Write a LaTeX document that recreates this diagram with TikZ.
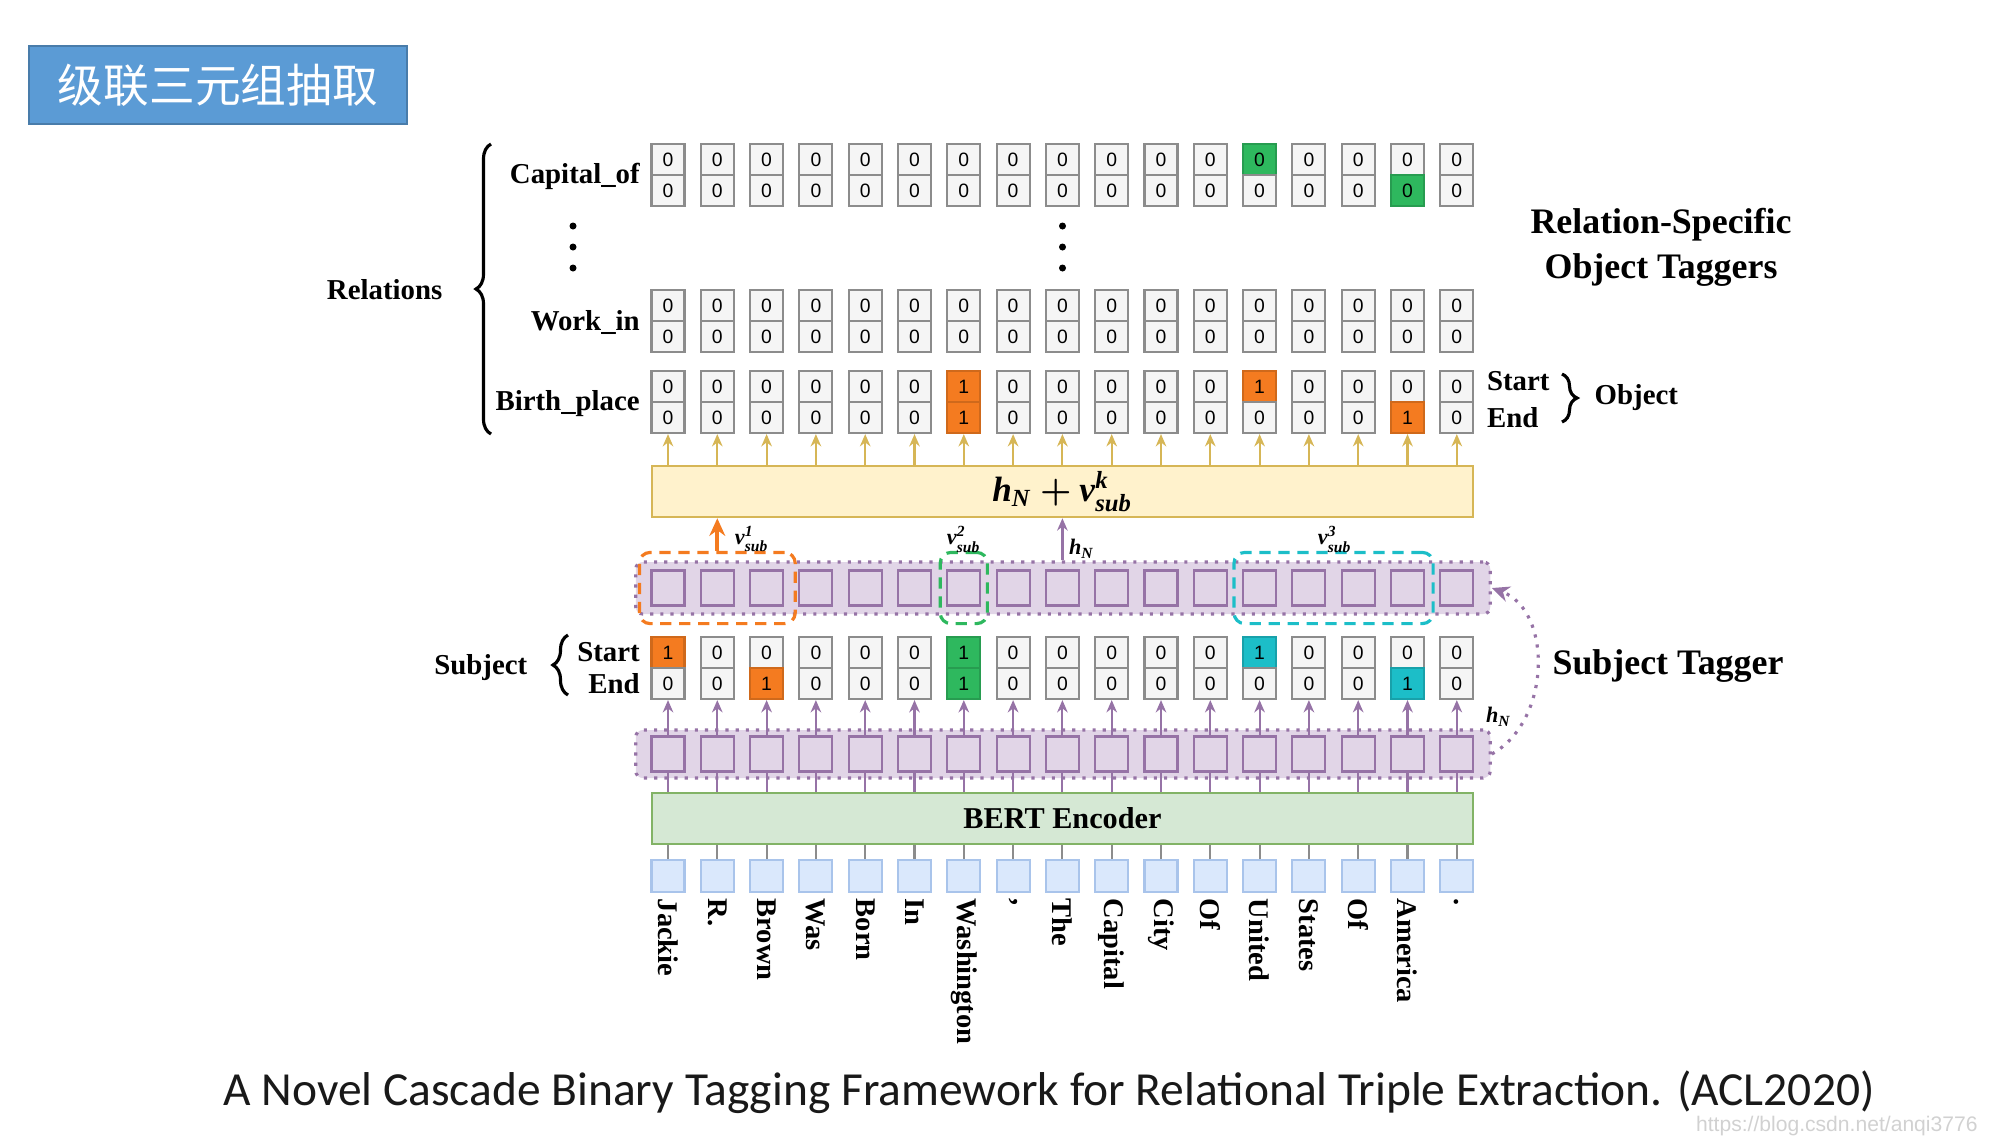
\documentclass[tikz,border=0pt]{standalone}
\usepackage{amsmath}
\usepackage{fontspec}
\setmainfont{Liberation Serif}
\setsansfont{Liberation Sans}
\newfontfamily\capfont{Carlito}
\newfontfamily\cjk{Noto Sans CJK SC}
\usetikzlibrary{positioning,fit,arrows.meta,decorations.pathreplacing}

\definecolor{titleblue}{HTML}{5B9BD5}
\definecolor{cellline}{HTML}{8C8C8C}
\definecolor{cellfill}{HTML}{F5F5F5}
\definecolor{tagorange}{HTML}{F47B20}
\definecolor{taggreen}{HTML}{2EB85E}
\definecolor{tagcyan}{HTML}{1CBEC8}
\definecolor{sumfill}{HTML}{FFF2CC}
\definecolor{sumline}{HTML}{D6B656}
\definecolor{hidfill}{HTML}{E1D5E7}
\definecolor{hidline}{HTML}{9673A6}
\definecolor{bertfill}{HTML}{D5E8D4}
\definecolor{bertline}{HTML}{82B366}
\definecolor{tokfill}{HTML}{DAE8FC}
\definecolor{tokline}{HTML}{A9C4EB}

\newcommand\bi[1]{\textbf{\textit{#1}}}

\tikzset{
  cell/.style={draw=cellline, fill=cellfill, line width=0.6pt, minimum width=0.33cm,
    minimum height=0.31cm, inner sep=0pt, font=\sffamily\fontsize{5.5}{6}\selectfont, node contents=0},
  org1/.style={fill=tagorange, draw=tagorange!85!black, node contents=1},
  grn1/.style={fill=taggreen, draw=taggreen!85!black, node contents=1},
  grn0/.style={fill=taggreen, draw=taggreen!85!black, node contents=0},
  cyn1/.style={fill=tagcyan, draw=tagcyan!85!black, node contents=1},
  % highlighted tags
  cap-13-s/.style={grn0}, cap-16-e/.style={grn0},
  birth-7-s/.style={org1}, birth-7-e/.style={org1},
  birth-13-s/.style={org1}, birth-16-e/.style={org1},
  subj-1-s/.style={org1}, subj-3-e/.style={org1},
  subj-7-s/.style={grn1}, subj-7-e/.style={grn1},
  subj-13-s/.style={cyn1}, subj-16-e/.style={cyn1},
  lab/.style={font=\bfseries\fontsize{8.2}{9}\selectfont, inner sep=0pt},
  biglab/.style={font=\bfseries\fontsize{10.2}{12.7}\selectfont, inner sep=0pt, align=center},
  hid/.style={draw=hidline, fill=hidfill, line width=0.6pt, minimum width=0.33cm,
    minimum height=0.35cm, inner sep=0pt},
  cont/.style={draw=hidline, fill=hidfill, dotted, line width=0.9pt, rounded corners=2pt,
    minimum width=8.54cm, inner sep=0pt},
  bar/.style={line width=0.7pt, minimum width=8.21cm, minimum height=0.51cm, inner sep=0pt},
  vbox/.style={dash pattern=on 3.2pt off 2.2pt, line width=0.9pt, rounded corners=3pt,
    inner ysep=0.17cm},
  tok/.style={draw=tokline, fill=tokfill, line width=0.6pt, minimum width=0.33cm,
    minimum height=0.32cm, inner sep=0pt},
  word/.style={font=\bfseries\fontsize{8.1}{9}\selectfont, rotate=-90, anchor=west, inner sep=0pt},
  vlab/.style={font=\fontsize{6.3}{7}\selectfont, inner sep=0pt},
  goldarr/.style={draw=sumline, line width=0.6pt, -{Stealth[length=3.5pt,width=3pt]}},
  purarr/.style={draw=hidline, line width=0.6pt, -{Stealth[length=3.5pt,width=3pt]}},
  orgarr/.style={draw=tagorange, line width=1.1pt, -{Stealth[length=5pt,width=4.5pt]}},
  brc/.style={decorate, decoration={brace, amplitude=0.15cm}, line width=0.9pt},
}

\begin{document}
\begin{tikzpicture}[x=0.01cm, y=-0.01cm]
\useasboundingbox (0,0) rectangle (2000,1144);

% 标题
\node[fill=titleblue, draw=titleblue!80!black, minimum width=3.78cm, minimum height=0.78cm,
  text=white, font=\cjk\fontsize{13}{14}\selectfont] (title) at (218,85) {级联三元组抽取};

% 标签格 (关系行 + 主体行)
\foreach \r/\y in {cap/175, work/321, birth/402, subj/668}{
  \foreach \i in {1,...,17}{
    \node (\r-s-\i) at ({668+49.3*(\i-1)}, \y-15.5) [cell, \r-\i-s/.try];
    \node (\r-e-\i) at ({668+49.3*(\i-1)}, \y+15.5) [cell, \r-\i-e/.try];
  }
}

% 省略号
\foreach \y in {226,247,268}{
  \fill (573,\y) circle (0.035cm);
  \fill (1062.5,\y) circle (0.035cm);
}

% 左侧标签
\node[lab, anchor=east] (lcap) at ([xshift=-0.1cm]cap-s-1.south west) {Capital\_of};
\node[lab, anchor=east] (lwork) at ([xshift=-0.1cm]work-s-1.south west) {Work\_in};
\node[lab, anchor=east] (lbirth) at ([xshift=-0.1cm]birth-s-1.south west) {Birth\_place};
\draw[brc] (491,434) -- (491,144);
\node[lab, anchor=east] (lrel) at (443,290) {Relations};

% 右侧 Object
\node[lab, anchor=west] (lostart) at ([xshift=0.12cm, yshift=0.05cm]birth-s-17.east) {Start};
\node[lab, anchor=west] (loend) at ([xshift=0.12cm]birth-e-17.east) {End};
\draw[brc] (1562,374) -- (1562,422);
\node[lab, anchor=west] (lobj) at (1594,398) {Object};
\node[biglab] (ltaggers) at (1661,247) {Relation-Specific\\Object Taggers};

% 求和层
\node[bar, draw=sumline, fill=sumfill] (sum) at (1062.5,491.5)
  {\fontsize{10}{11}\selectfont$\bi{h}_{\bi{N}}\boldsymbol{+}\bi{v}^{\bi{k}}_{\bi{sub}}$};
\foreach \i in {1,...,17}
  \draw[goldarr] (sum.north -| birth-e-\i) -- (birth-e-\i.south);

% 隐层 1
\node[cont, minimum height=0.52cm] (cont1) at (1063,588) {};
\foreach \i in {1,...,17}
  \node[hid] (hid1-\i) at ({668+49.3*(\i-1)}, 588) {};
\node[vbox, draw=tagorange, inner xsep=0.11cm, fit=(hid1-1)(hid1-3)] (v1box) {};
\node[vbox, draw=taggreen, inner xsep=0.06cm, fit=(hid1-7)] (v2box) {};
\node[vbox, draw=tagcyan, inner xsep=0.08cm, fit=(hid1-13)(hid1-16)] (v3box) {};
\draw[orgarr] (v1box.north -| hid1-2) -- (sum.south -| hid1-2);
\draw[purarr, line width=0.9pt] (cont1.north -| hid1-9) -- (sum.south -| hid1-9);
\node[vlab] (lv1) at (752,539) {$\bi{v}^{\bi{1}}_{\bi{sub}}$};
\node[vlab] (lv2) at (964,539) {$\bi{v}^{\bi{2}}_{\bi{sub}}$};
\node[vlab] (lv3) at (1335,539) {$\bi{v}^{\bi{3}}_{\bi{sub}}$};
\node[vlab] (lh1) at (1082,549) {$\bi{h}_{\bi{N}}$};

% 主体标签
\node[lab, anchor=east] (lsstart) at ([xshift=-0.1cm]subj-s-1.west) {Start};
\node[lab, anchor=east] (lsend) at ([xshift=-0.1cm]subj-e-1.west) {End};
\draw[brc] (568,695) -- (568,635);
\node[lab, anchor=east] (lsubj) at (528,668) {Subject};
\node[biglab] (lsubtagger) at (1668,666) {Subject Tagger};

% 隐层 2 + BERT
\node[cont, minimum height=0.48cm] (cont2) at (1063,754) {};
\node[bar, draw=bertline, fill=bertfill, font=\bfseries\fontsize{8.6}{9}\selectfont] (bert) at (1062.5,818.5) {BERT Encoder};
\foreach \i/\w in {1/Jackie, 2/R., 3/Brown, 4/Was, 5/Born, 6/In, 7/Washington, 8/{,},
    9/The, 10/Capital, 11/City, 12/Of, 13/United, 14/States, 15/Of, 16/America, 17/.}{
  \node[hid] (hid2-\i) at ({668+49.3*(\i-1)}, 754) {};
  \node[tok] (tok-\i) at ({668+49.3*(\i-1)}, 876) {};
  \node[word] (word-\i) at ([yshift=-0.05cm]tok-\i.south) {\w};
  \draw[purarr] (hid2-\i.north) -- (subj-e-\i.south);
  \draw[draw=hidline, line width=0.6pt] (hid2-\i.south) -- (bert.north -| hid2-\i);
  \draw[draw=cellline, line width=0.6pt] (bert.south -| tok-\i) -- (tok-\i.north);
}
\draw[hidline, dotted, line width=0.9pt, -{Stealth[length=5pt,width=4.5pt]}]
  (cont2.east) .. controls (1552,720) and (1552,610) .. (cont1.east);
\node[vlab] (lh2) at (1499,717) {$\bi{h}_{\bi{N}}$};

% 标题与水印
\node[font=\capfont\fontsize{13.5}{15}\selectfont, text=black!90] (caption) at (1049,1092)
  {A Novel Cascade Binary Tagging Framework for Relational Triple Extraction. (ACL2020)};
\node[anchor=east, font=\sffamily\fontsize{6}{7}\selectfont, text=black!18] (mark) at (1990,1126)
  {https://blog.csdn.net/anqi3776};
\end{tikzpicture}
\end{document}
